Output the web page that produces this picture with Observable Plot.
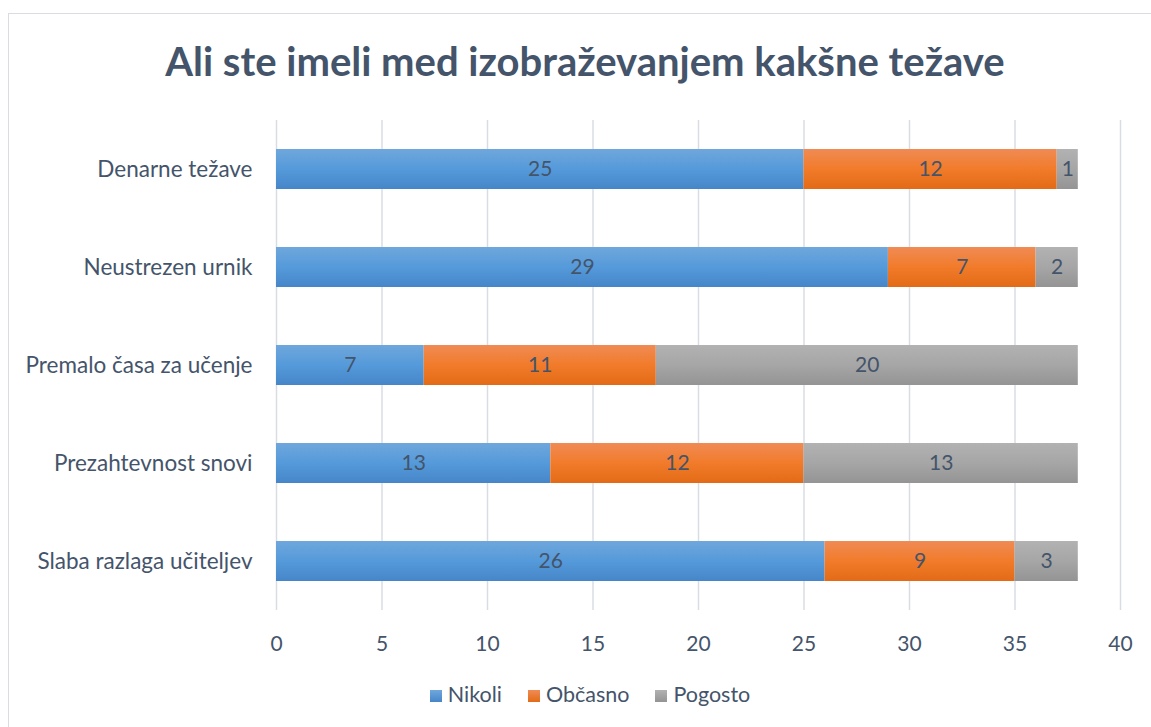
<!DOCTYPE html>
<html>
<head>
<meta charset="utf-8">
<script src="https://cdn.jsdelivr.net/npm/d3@7"></script>
<script src="https://cdn.jsdelivr.net/npm/@observablehq/plot@0.6"></script>
<style>
  html, body { margin: 0; padding: 0; background: #fff; width: 1151px; height: 727px; overflow: hidden; }
  body { font-family: Lato, "Open Sans", sans-serif; position: relative; }
  #frame { position: absolute; left: 8px; top: 13px; width: 1160px; height: 730px; border: 1px solid #d9dde3; box-sizing: border-box; }
  #title { position: absolute; left: 0; top: 37px; width: 1170px; text-align: center; font-size: 40px; font-weight: bold; color: #44546a; }
  #chart { position: absolute; left: 0; top: 100px; }
  #legend { position: absolute; left: 0; top: 681px; width: 1180px; text-align: center; font-size: 21.5px; color: #44546a; }
  #legend span.item { margin: 0 13px; white-space: nowrap; }
  #legend span.sw { display: inline-block; width: 12px; height: 12px; margin-right: 6px; vertical-align: 0px; }
</style>
</head>
<body>
<div id="frame"></div>
<div id="title">Ali ste imeli med izobraževanjem kakšne težave</div>
<div id="chart"></div>
<div id="legend"></div>
<script>
const categories = ["Denarne težave", "Neustrezen urnik", "Premalo časa za učenje", "Prezahtevnost snovi", "Slaba razlaga učiteljev"];
const series = ["Nikoli", "Občasno", "Pogosto"];
const nikoli  = [25, 29, 7, 13, 26];
const obcasno = [12, 7, 11, 12, 9];
const pogosto = [1, 2, 20, 13, 3];
const xTicks = [0, 5, 10, 15, 20, 25, 30, 35, 40];

const valuesBySeries = [nikoli, obcasno, pogosto];
const data = [];
series.forEach((s, si) => categories.forEach((c, ci) => data.push({cat: c, series: s, value: valuesBySeries[si][ci]})));

const gradIds = ["gBlue", "gOrange", "gGray"];
const gradStops = [
  ["#6fa7dc", "#559ada", "#4686c8"],
  ["#f08b55", "#f17b2a", "#e36b17"],
  ["#b2b2b2", "#a6a6a6", "#949494"]
];

const plot = Plot.plot({
  width: 1151,
  height: 560,
  marginLeft: 276,
  marginRight: 31,
  marginTop: 20,
  marginBottom: 50,
  style: {fontFamily: "Lato, 'Open Sans', sans-serif", fontSize: "21px", color: "#44546a", background: "transparent"},
  x: {domain: [0, 40], ticks: xTicks, label: null},
  y: {domain: categories, label: null, paddingInner: 0.59, paddingOuter: 0.295},
  color: {domain: series, range: gradIds.map(id => `url(#${id})`)},
  marks: [
    Plot.gridX(xTicks, {stroke: "#d9dde3", strokeOpacity: 1, strokeWidth: 1.5}),
    Plot.barX(data, Plot.stackX({x: "value", y: "cat", z: "series", fill: "series", order: null})),
    Plot.text(data, Plot.stackX({x: "value", y: "cat", z: "series", text: d => String(d.value), order: null, fill: "#44546a", fontSize: 21})),
    Plot.axisX(xTicks, {tickSize: 0, tickPadding: 26, fontSize: 21, fill: "#44546a", label: null}),
    Plot.axisY({tickSize: 0, tickPadding: 24, fontSize: 22.5, fill: "#44546a", label: null})
  ]
});

const svg = d3.select(plot);
const defs = svg.insert("defs", ":first-child");
gradIds.forEach((id, i) => {
  const g = defs.append("linearGradient").attr("id", id).attr("x1", 0).attr("y1", 0).attr("x2", 0).attr("y2", 1);
  g.append("stop").attr("offset", "0%").attr("stop-color", gradStops[i][0]);
  g.append("stop").attr("offset", "50%").attr("stop-color", gradStops[i][1]);
  g.append("stop").attr("offset", "100%").attr("stop-color", gradStops[i][2]);
});
document.getElementById("chart").appendChild(plot);

const legend = document.getElementById("legend");
series.forEach((s, i) => {
  const item = document.createElement("span");
  item.className = "item";
  const sw = document.createElement("span");
  sw.className = "sw";
  sw.style.background = `linear-gradient(${gradStops[i][0]}, ${gradStops[i][2]})`;
  item.appendChild(sw);
  item.appendChild(document.createTextNode(s));
  legend.appendChild(item);
});
</script>
</body>
</html>
